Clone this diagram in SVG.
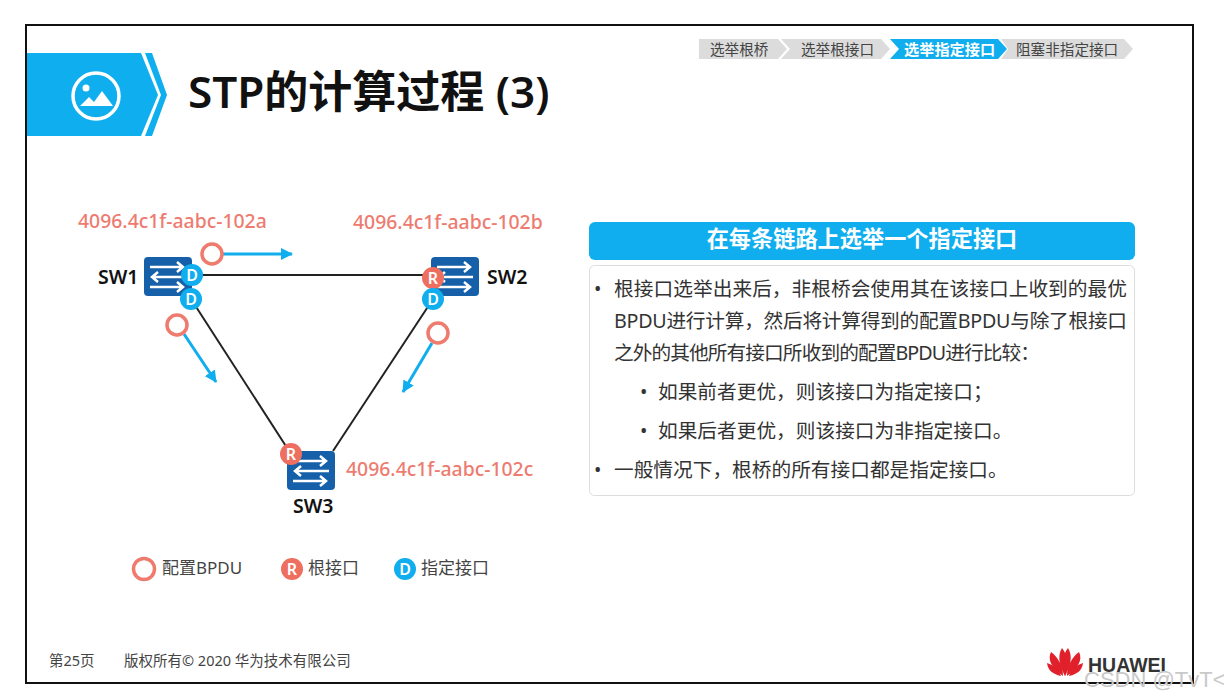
<svg xmlns="http://www.w3.org/2000/svg" width="1224" height="699" viewBox="0 0 1224 699">
<defs>
<style>
text{font-family:"Noto Sans","Noto Sans CJK SC","Open Sans",sans-serif}
.crumb{font-size:14.6px;fill:#444}
.id{font-size:19.4px;font-weight:500;fill:#EE7B70}
.sw{font-size:19.5px;font-weight:600;fill:#111}
.body{font-size:19.7px;fill:#333}
.leg{font-size:17px;fill:#444}
.foot{font-size:14.5px;fill:#444}
.link{stroke:#222;stroke-width:2;fill:none}
.flow{stroke:#10AEEE;stroke-width:3;fill:none;marker-end:url(#ah)}
.bpdu{fill:#fff;stroke:#EE7B6D;stroke-width:3.5}
.pl{font-size:16px;font-weight:600;fill:#fff;text-anchor:middle}
.r{fill:#EE6F60}
.d{fill:#10AEEE}
.sa{stroke:#fff;stroke-width:2.500;fill:none}
</style>
<marker id="ah" markerUnits="userSpaceOnUse" markerWidth="13" markerHeight="12" refX="11" refY="6" orient="auto"><path d="M0 0L12 6L0 12Z" fill="#10AEEE"/></marker>
<g id="swi">
<rect width="48" height="39" rx="4" fill="#1560A8"/>
<path class="sa" d="M6 10H38M33 5L39 10L33 15M42 20H9M14 15L8 20L14 25M6 30H38M33 25L39 30L33 35"/>
</g>
</defs>
<rect width="1224" height="699" fill="#fff"/>
<rect x="26" y="25" width="1167" height="658" fill="#fff" stroke="#111" stroke-width="2"/>

<g id="header">
<path d="M27 53H141L158 95L141 136H27Z" fill="#0FAEEF"/>
<path d="M145 53H152L167 95L152 136H145L161 95Z" fill="#0FAEEF"/>
<circle cx="96" cy="96" r="23" fill="none" stroke="#fff" stroke-width="3.5"/>
<circle cx="86" cy="88" r="3.5" fill="#fff"/>
<path d="M80 106L89 97L94 102L102 91L113 106Z" fill="#fff"/>
<text x="188" y="108" font-size="44" font-weight="600" fill="#111">STP的计算过程 (3)</text>
</g>

<g id="breadcrumb">
<path d="M699 39H778L787 49L778 59H699Z" fill="#DCDCDC"/>
<path d="M781 39H881L890 49L881 59H781L790 49Z" fill="#DCDCDC"/>
<path d="M890 39H998L1007 49L998 59H890L899 49Z" fill="#10AEEE"/>
<path d="M1001 39H1124L1133 49L1124 59H1001L1008 49Z" fill="#DCDCDC"/>
<text class="crumb" x="710" y="55">选举根桥</text>
<text class="crumb" x="801" y="55">选举根接口</text>
<text class="crumb" x="904" y="55" style="fill:#fff;font-weight:600;font-size:15.200px">选举指定接口</text>
<text class="crumb" x="1016" y="55">阻塞非指定接口</text>
</g>

<g id="connectors">
<path class="link" d="M192 275H433"/>
<path class="link" d="M191 299L291 454"/>
<path class="link" d="M433 299L333 451"/>
<path class="flow" d="M222 254H292"/>
<path class="flow" d="M184 334L216 382"/>
<path class="flow" d="M432 343L403 392"/>
</g>

<g id="sw1">
<use href="#swi" x="144" y="257"/>
<text class="sw" x="98" y="284">SW1</text>
<circle class="d" cx="192" cy="275" r="11"/><text class="pl" x="192" y="281">D</text>
<circle class="d" cx="191" cy="299" r="11"/><text class="pl" x="191" y="305">D</text>
<text class="id" x="78" y="228">4096.4c1f-aabc-102a</text>
</g>
<g id="sw2">
<use href="#swi" x="431" y="257"/>
<text class="sw" x="487" y="284">SW2</text>
<circle class="r" cx="433" cy="278" r="11"/><text class="pl" x="433" y="284">R</text>
<circle class="d" cx="433" cy="299" r="11"/><text class="pl" x="433" y="305">D</text>
<text class="id" x="353" y="229">4096.4c1f-aabc-102b</text>
</g>
<g id="sw3">
<use href="#swi" x="287" y="451"/>
<text class="sw" x="293" y="513">SW3</text>
<circle class="r" cx="291" cy="454" r="11"/><text class="pl" x="291" y="460">R</text>
<text class="id" x="346" y="476">4096.4c1f-aabc-102c</text>
</g>
<g id="bpdus">
<circle class="bpdu" cx="212" cy="254" r="10"/>
<circle class="bpdu" cx="177" cy="325" r="10"/>
<circle class="bpdu" cx="438" cy="333" r="10"/>
</g>

<g id="legend">
<circle class="bpdu" cx="144" cy="569" r="10.500"/>
<text class="leg" x="162" y="574">配置BPDU</text>
<circle class="r" cx="292" cy="569" r="11"/><text class="pl" x="292" y="575">R</text>
<text class="leg" x="308" y="574">根接口</text>
<circle class="d" cx="405" cy="569" r="11"/><text class="pl" x="405" y="575">D</text>
<text class="leg" x="421" y="574">指定接口</text>
</g>

<g id="panel">
<rect x="589" y="222" width="546" height="38" rx="6" fill="#10AEEE"/>
<text x="862" y="247" font-size="22.200" font-weight="600" fill="#fff" text-anchor="middle">在每条链路上选举一个指定接口</text>
<rect x="589.500" y="265.500" width="545" height="230" rx="5" fill="#fff" stroke="#DDD"/>
<text class="body" x="594" y="296">•</text>
<text class="body" x="614" y="296" textLength="513">根接口选举出来后，非根桥会使用其在该接口上收到的最优</text>
<text class="body" x="614" y="328" textLength="513">BPDU进行计算，然后将计算得到的配置BPDU与除了根接口</text>
<text class="body" x="614" y="360" textLength="426">之外的其他所有接口所收到的配置BPDU进行比较：</text>
<text class="body" x="640" y="399">•</text>
<text class="body" x="658" y="399">如果前者更优，则该接口为指定接口；</text>
<text class="body" x="640" y="438">•</text>
<text class="body" x="658" y="438">如果后者更优，则该接口为非指定接口。</text>
<text class="body" x="594" y="477">•</text>
<text class="body" x="614" y="477">一般情况下，根桥的所有接口都是指定接口。</text>
</g>

<g id="footer">
<text class="foot" x="49" y="666">第25页</text>
<text class="foot" x="124" y="666">版权所有© 2020 华为技术有限公司</text>
<g fill="#E0202B">
<path d="M1065 676C1058 664 1058 654 1062 648C1067 654 1069 665 1065 676Z"/>
<path d="M1065 676C1072 664 1072 654 1068 648C1063 654 1061 665 1065 676Z"/>
<path d="M1063 676C1052 668 1047 660 1051 652C1058 657 1063 666 1063 676Z"/>
<path d="M1067 676C1078 668 1083 660 1079 652C1072 657 1067 666 1067 676Z"/>
<path d="M1061 676C1052 674 1048 670 1047 663C1054 665 1059 670 1061 676Z"/>
<path d="M1069 676C1078 674 1082 670 1083 663C1076 665 1071 670 1069 676Z"/>
</g>
<text x="1088" y="672" font-size="19.500" font-weight="700" fill="#333" style="font-family:'Liberation Sans',sans-serif">HUAWEI</text>
<text x="1084" y="687" font-size="22" fill="#C9C9C9" style="font-family:'Liberation Sans',sans-serif">CSDN @TvT&lt;</text>
</g>
</svg>
